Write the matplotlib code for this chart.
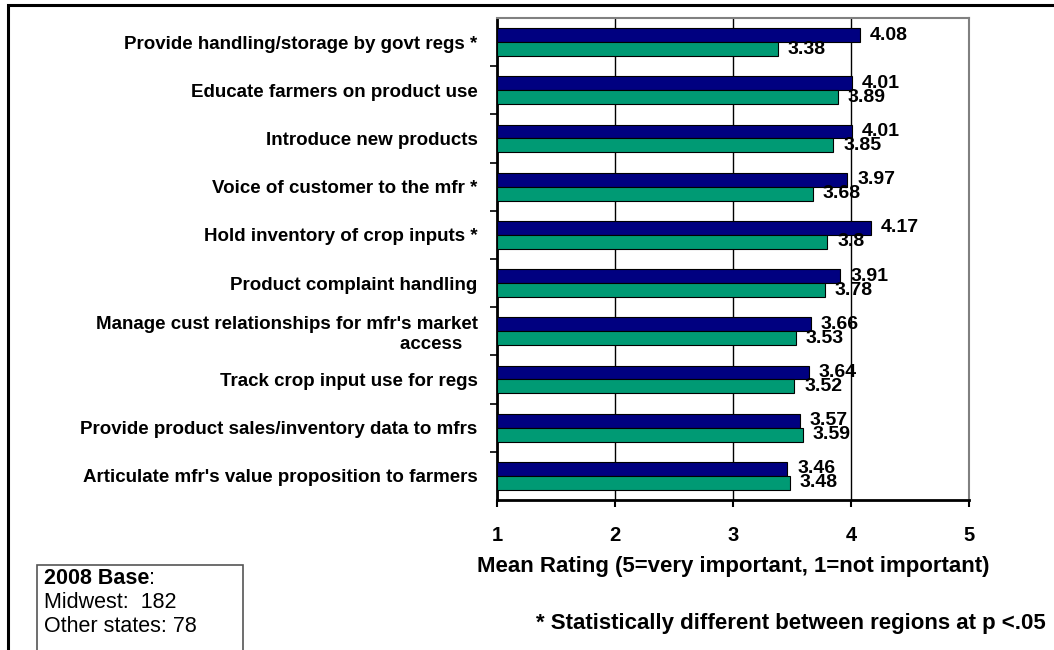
import matplotlib.pyplot as plt
from matplotlib.patches import Rectangle

plt.rcParams['font.family'] = ['Liberation Sans', 'DejaVu Sans']

categories = [
    "Provide handling/storage by govt regs *",
    "Educate farmers on product use",
    "Introduce new products",
    "Voice of customer to the mfr *",
    "Hold inventory of crop inputs *",
    "Product complaint handling",
    "Manage cust relationships for mfr's market\naccess   ",
    "Track crop input use for regs",
    "Provide product sales/inventory data to mfrs",
    "Articulate mfr's value proposition to farmers",
]
midwest = [4.08, 4.01, 4.01, 3.97, 4.17, 3.91, 3.66, 3.64, 3.57, 3.46]
other_states = [3.38, 3.89, 3.85, 3.68, 3.8, 3.78, 3.53, 3.52, 3.59, 3.48]
x_ticks = [1, 2, 3, 4, 5]

navy = '#000080'
green = '#009a74'


def main():
    fig = plt.figure(figsize=(10.54, 6.5), dpi=100)
    ax = fig.add_axes([0.4715, 0.2308, 0.9194 - 0.4715, 0.9723 - 0.2308])

    pos = list(range(len(categories)))
    h = 0.29
    left = 1
    ax.barh([p - h / 2 for p in pos], [v - left for v in midwest], height=h, left=left,
            color=navy, edgecolor='black', linewidth=0.8, zorder=3)
    ax.barh([p + h / 2 for p in pos], [v - left for v in other_states], height=h, left=left,
            color=green, edgecolor='black', linewidth=0.8, zorder=3)

    # value labels
    for p, v in zip(pos, midwest):
        ax.annotate(f"{v:g}", (v, p - h / 2), xytext=(7, 0), textcoords='offset points',
                    va='center', ha='left', fontsize=14, fontweight='bold')
    for p, v in zip(pos, other_states):
        ax.annotate(f"{v:g}", (v, p + h / 2), xytext=(7, 0), textcoords='offset points',
                    va='center', ha='left', fontsize=14, fontweight='bold')

    ax.set_xlim(1, 5)
    ax.set_ylim(len(categories) - 0.5, -0.5)

    ax.set_xticks(x_ticks)
    ax.set_xticklabels([str(t) for t in x_ticks], fontsize=14.5, fontweight='bold')
    ax.tick_params(axis='x', direction='out', length=5, width=1.5, pad=14)

    ax.set_yticks(pos)
    ax.set_yticklabels(categories, fontsize=13.5, fontweight='bold', multialignment='right')
    ax.tick_params(axis='y', length=0, pad=14)
    ax.set_yticks([p + 0.5 for p in pos[:-1]], minor=True)
    ax.tick_params(axis='y', which='minor', direction='out', length=5, width=1.2)

    ax.xaxis.grid(True, color='black', linewidth=1.0, zorder=0)
    ax.set_axisbelow(True)

    for side in ['left', 'bottom']:
        ax.spines[side].set_linewidth(2)
        ax.spines[side].set_color('black')
    for side in ['top', 'right']:
        ax.spines[side].set_linewidth(1.5)
        ax.spines[side].set_color('#808080')

    ax.set_xlabel("Mean Rating (5=very important, 1=not important)",
                  fontsize=16, fontweight='bold', labelpad=8)

    fig.text(0.992, 1 - 624 / 650, "* Statistically different between regions at p <.05",
             ha='right', va='center', fontsize=16, fontweight='bold')

    # base box
    fig.patches.append(Rectangle((37 / 1054, -0.1), (243 - 37) / 1054, 0.1 + (650 - 565) / 650,
                                 transform=fig.transFigure, fill=False,
                                 edgecolor='#555555', linewidth=1.2))
    t = fig.text(44 / 1054, 1 - 579 / 650, "2008 Base", fontsize=15.5,
                 fontweight='bold', va='center')
    fig.canvas.draw()
    ax.annotate(":", xy=(1, 0.5), xycoords=t, va='center', ha='left', fontsize=15.5,
                annotation_clip=False)
    fig.text(44 / 1054, 1 - 603 / 650, "Midwest:  182", fontsize=15.5, va='center')
    fig.text(44 / 1054, 1 - 627 / 650, "Other states: 78", fontsize=15.5, va='center')

    # outer frame
    fig.patches.append(Rectangle((7.5 / 1054, -0.2), 1.2, 1.2 - 4.5 / 650,
                                 transform=fig.transFigure, fill=False,
                                 edgecolor='black', linewidth=2.2))

    fig.savefig('out.png', dpi=100)


if __name__ == '__main__':
    main()
